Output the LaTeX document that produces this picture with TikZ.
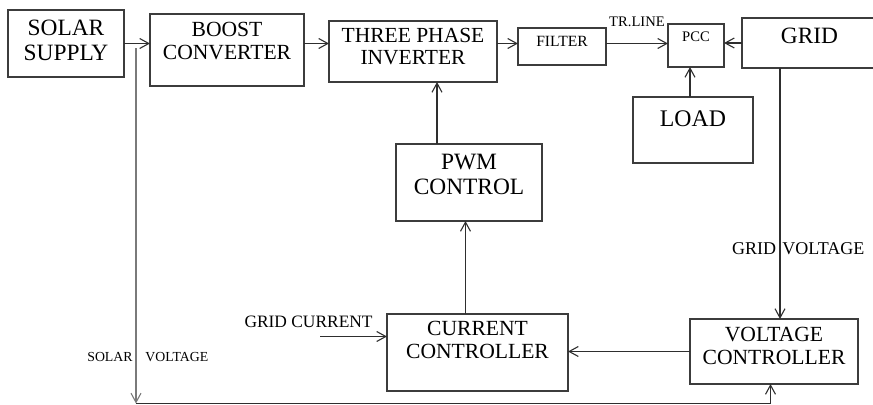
\documentclass[tikz,border=0pt]{standalone}
\usepackage{fontspec}
\setmainfont{Liberation Serif}
\usetikzlibrary{arrows.meta,positioning}
\definecolor{boxgray}{HTML}{3C3C3C}
\definecolor{wiregray}{HTML}{2E2E2E}
\definecolor{tapgray}{HTML}{7A7A7A}

\tikzset{
  blk/.style={draw=boxgray,line width=0.7pt,inner sep=0pt,outer sep=0pt,align=center,anchor=north west},
  bigtxt/.style={font=\fontsize{11.7}{12.5}\selectfont},
  midtxt/.style={font=\fontsize{10.8}{11.5}\selectfont},
  lbl/.style={font=\fontsize{8.7}{9}\selectfont,inner sep=0pt},
  wire/.style={draw=wiregray,line width=0.55pt,->},
}

\begin{document}
\begin{tikzpicture}[x=0.5pt,y=-0.5pt,>={Straight Barb[length=4.6pt,width=5pt]}]
  \useasboundingbox (0,0) rectangle (873,405);
  % power path
  \node[blk,bigtxt,minimum width=58pt,text height=25.5pt,text depth=8pt] (solar) at (8,10) {SOLAR\\SUPPLY};
  \node[blk,midtxt,minimum width=77pt,text height=23pt,text depth=13pt] (boost) at (150,14) {BOOST\\CONVERTER};
  \node[blk,font=\fontsize{10.75}{11}\selectfont,minimum width=84pt,text height=22pt,text depth=8.5pt] (inverter) at (329,21) {THREE PHASE\\INVERTER};
  \node[blk,font=\fontsize{7.8}{9}\selectfont,minimum width=44pt,text height=9.5pt,text depth=9pt] (filter) at (518,28) {FILTER};
  \node[blk,font=\fontsize{7.3}{9}\selectfont,minimum width=28pt,text height=9pt,text depth=12.5pt] (pcc) at (668,24) {PCC};
  \node[blk,bigtxt,minimum width=67.5pt,text height=13pt,text depth=12pt] (grid) at (742,18) {GRID};
  \node[blk,font=\fontsize{11.9}{13}\selectfont,minimum width=60pt,text height=15pt,text depth=18pt] (load) at (633,97) {LOAD};
  % control path
  \node[blk,bigtxt,minimum width=73pt,text height=25.5pt,text depth=13pt] (pwm) at (396,144) {PWM\\CONTROL};
  \node[blk,midtxt,minimum width=90.5pt,text height=22.5pt,text depth=16pt] (current) at (387,314) {CURRENT\\CONTROLLER};
  \node[blk,midtxt,minimum width=84pt,text height=23pt,text depth=9.5pt] (voltage) at (690,319) {VOLTAGE\\CONTROLLER};

  \draw[wire] (solar.east) -- (boost.west |- solar.east);
  \draw[wire] (boost.east |- solar.east) -- (inverter.west |- solar.east);
  \draw[wire] (inverter.east |- solar.east) -- (filter.west |- solar.east);
  \draw[wire] (filter.east |- solar.east) -- node[lbl,font=\fontsize{7.3}{9}\selectfont,above=8.2pt] (trline) {TR.LINE} (pcc.west |- solar.east);
  \draw[wire] (grid.west) -- (pcc.east |- grid.west);
  \coordinate (lout) at ([xshift=-1.5pt]load.north);
  \draw[wire] (lout) -- (lout |- pcc.south);

  \coordinate (pout) at ([xshift=-16pt]pwm.north);
  \draw[wire] (pout) -- (pout |- inverter.south);
  \coordinate (cout) at ([xshift=-6pt]current.north);
  \draw[wire] (cout) -- (cout |- pwm.south);
  \draw[wire] (voltage.west) -- (current.east |- voltage.west);

  \coordinate (gc) at ([shift={(-33.5pt,8pt)}]current.west);
  \draw[wire] (gc) -- (gc -| current.west);
  \node[lbl,anchor=base east] (gclbl) at ([shift={(-7pt,12.25pt)}]current.west) {GRID CURRENT};

  \coordinate (vin) at ([xshift=3pt]voltage.north);
  \draw[wire] (vin |- grid.south) -- (vin);
  \node[lbl,font=\fontsize{9}{9}\selectfont,anchor=base east] (gvl) at (776.5,255) {GRID};
  \node[lbl,font=\fontsize{9}{9}\selectfont,anchor=base west] (gvr) at (782,255) {VOLTAGE};

  % solar voltage feedback
  \coordinate (stap) at ([shift={(6pt,-2.5pt)}]solar.east);
  \coordinate (vbot) at ([shift={(-1.75pt,-9.75pt)}]voltage.south);
  \draw[wire,draw=tapgray] (stap) -- (stap |- vbot);
  \draw[wire] (stap |- vbot) -- (vbot) -- (vbot |- voltage.south);
  \node[lbl,font=\fontsize{6.9}{8}\selectfont,anchor=base east] (svl) at (133,362) {SOLAR};
  \node[lbl,font=\fontsize{6.9}{8}\selectfont,anchor=base west] (svr) at (145,362) {VOLTAGE};
\end{tikzpicture}
\end{document}
